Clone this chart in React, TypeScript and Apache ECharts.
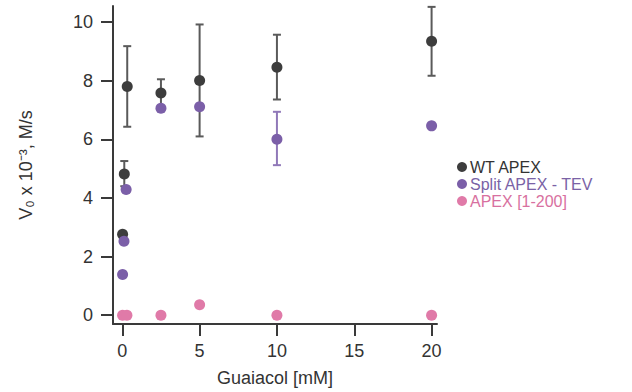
import React, { useEffect, useRef } from "react";
import * as echarts from "echarts";

// WT APEX
const wtX = [0.02, 0.13, 0.32, 2.5, 5, 10, 20];
const wtY = [2.76, 4.82, 7.8, 7.58, 8.01, 8.46, 9.35];
const wtLow = [null, 4.4, 6.43, 7.1, 6.1, 7.36, 8.17];
const wtHigh = [null, 5.26, 9.18, 8.05, 9.92, 9.57, 10.52];

// Split APEX - TEV
const splitX = [0.02, 0.11, 0.25, 2.5, 5, 10, 20];
const splitY = [1.39, 2.52, 4.29, 7.06, 7.11, 6.0, 6.46];
const splitLow = [null, null, null, null, null, 5.12, null];
const splitHigh = [null, null, null, null, null, 6.94, null];

// APEX [1-200]
const apexX = [0.02, 0.3, 2.5, 5, 10, 20];
const apexY = [0, 0, 0, 0.36, 0, 0];

const xTicks = [0, 5, 10, 15, 20];
const yTicks = [0, 2, 4, 6, 8, 10];

const seriesNames = ["WT APEX", "Split APEX - TEV", "APEX [1-200]"];
const markerColors = ["#3d3d3d", "#7b5fa8", "#e07aa8"];
const textColors = ["#333333", "#7a62a6", "#d870a0"];
const errColors = ["#5a5a5a", "#9078b8"];

const FONT = "'Liberation Sans', Arial, Helvetica, sans-serif";

function errData(xs: number[], lo: (number | null)[], hi: (number | null)[]) {
  const out: number[][] = [];
  xs.forEach((x, i) => {
    const l = lo[i];
    const h = hi[i];
    if (l != null && h != null) out.push([x, l, h]);
  });
  return out;
}

function errSeries(data: number[][], color: string) {
  return {
    type: "custom",
    data,
    encode: { x: 0, y: [1, 2] },
    silent: true,
    renderItem: (params: any, api: any) => {
      const x = api.value(0);
      const lo = api.coord([x, api.value(1)]);
      const hi = api.coord([x, api.value(2)]);
      const hw = 4;
      const style = { stroke: color, lineWidth: 2 };
      return {
        type: "group",
        children: [
          { type: "line", shape: { x1: lo[0], y1: lo[1], x2: hi[0], y2: hi[1] }, style },
          { type: "line", shape: { x1: lo[0] - hw, y1: lo[1], x2: lo[0] + hw, y2: lo[1] }, style },
          { type: "line", shape: { x1: hi[0] - hw, y1: hi[1], x2: hi[0] + hw, y2: hi[1] }, style },
        ],
      };
    },
  };
}

const zip = (xs: number[], ys: number[]) => xs.map((x, i) => [x, ys[i]]);

export default function App() {
  const ref = useRef<HTMLDivElement>(null);
  useEffect(() => {
    if (!ref.current) return;
    const chart = echarts.init(ref.current, null, { renderer: "svg" });
    const axisColor = "#3a3a3a";
    chart.setOption({
      animation: false,
      backgroundColor: "#ffffff",
      textStyle: { fontFamily: FONT },
      grid: { left: 113, right: 195, top: 6, bottom: 68, containLabel: false },
      legend: {
        orient: "vertical",
        left: 452,
        top: 154,
        itemGap: 1,
        itemWidth: 10,
        itemHeight: 10,
        icon: "circle",
        selectedMode: false,
        data: seriesNames.map((n, i) => ({
          name: n,
          textStyle: { color: textColors[i], fontSize: 16, fontFamily: FONT, lineHeight: 16 },
        })),
        textStyle: { fontSize: 16, fontFamily: FONT, lineHeight: 16, padding: [0, 0, 0, -2] },
      },
      xAxis: {
        type: "value",
        min: -0.6,
        max: 20.35,
        name: "Guaiacol [mM]",
        nameLocation: "middle",
        nameGap: 45,
        nameTextStyle: { fontSize: 18, color: "#333", fontFamily: FONT },
        splitLine: { show: false },
        axisLine: { show: true, onZero: false, lineStyle: { color: axisColor, width: 2 } },
        axisTick: {
          show: true,
          length: 12,
          customValues: xTicks,
          lineStyle: { color: axisColor, width: 2 },
        },
        axisLabel: {
          customValues: xTicks,
          fontSize: 18,
          color: "#333",
          margin: 18,
          fontFamily: FONT,
        },
      },
      yAxis: {
        type: "value",
        min: -0.3,
        max: 10.55,
        name: "V₀ x 10⁻³, M/s",
        nameLocation: "middle",
        nameGap: 78,
        nameRotate: 90,
        nameTextStyle: { fontSize: 18, color: "#333", fontFamily: FONT },
        splitLine: { show: false },
        axisLine: { show: true, onZero: false, lineStyle: { color: axisColor, width: 2 } },
        axisTick: {
          show: true,
          length: 12,
          customValues: yTicks,
          lineStyle: { color: axisColor, width: 2 },
        },
        axisLabel: {
          customValues: yTicks,
          fontSize: 18,
          color: "#333",
          margin: 20,
          fontFamily: FONT,
        },
      },
      series: [
        errSeries(errData(wtX, wtLow, wtHigh), errColors[0]),
        errSeries(errData(splitX, splitLow, splitHigh), errColors[1]),
        {
          name: seriesNames[0],
          type: "scatter",
          symbolSize: 11,
          itemStyle: { color: markerColors[0], opacity: 1 },
          data: zip(wtX, wtY),
        },
        {
          name: seriesNames[1],
          type: "scatter",
          symbolSize: 11,
          itemStyle: { color: markerColors[1], opacity: 1 },
          data: zip(splitX, splitY),
        },
        {
          name: seriesNames[2],
          type: "scatter",
          symbolSize: 11,
          itemStyle: { color: markerColors[2], opacity: 1 },
          data: zip(apexX, apexY),
        },
      ],
    });
    return () => chart.dispose();
  }, []);
  return (
    <div
      ref={ref}
      style={{ position: "absolute", left: 0, top: 0, width: 632, height: 392 }}
    />
  );
}
